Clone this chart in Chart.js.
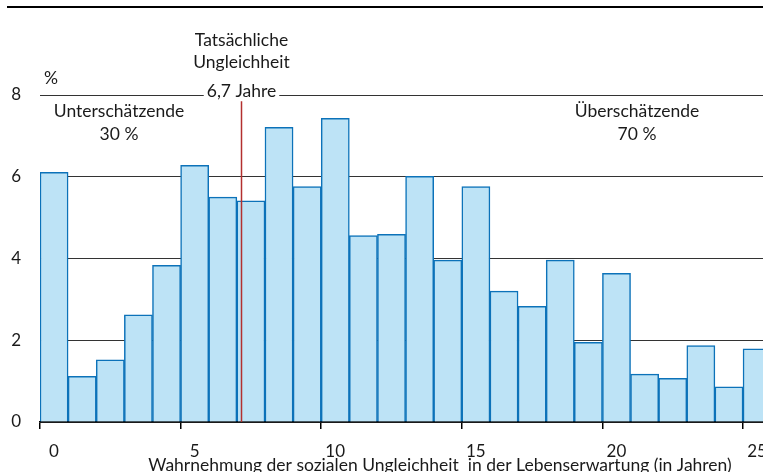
<!DOCTYPE html>
<html lang="de">
<head>
<meta charset="utf-8">
<script src="https://cdn.jsdelivr.net/npm/chart.js@4.4.1/dist/chart.umd.min.js"></script>
<style>
  html, body { margin: 0; padding: 0; background: #fff; overflow: hidden; }
  #wrap { position: relative; width: 790px; height: 472px; }
</style>
</head>
<body>
<div id="wrap"><canvas id="chart" width="790" height="472"></canvas></div>
<script>
const bins = [0, 1, 2, 3, 4, 5, 6, 7, 8, 9, 10, 11, 12, 13, 14, 15, 16, 17, 18, 19, 20, 21, 22, 23, 24, 25];
const shares = [6.11, 1.12, 1.52, 2.62, 3.83, 6.28, 5.50, 5.41, 7.21, 5.76, 7.43, 4.56, 4.59, 6.01, 3.96, 5.76, 3.20, 2.83, 3.96, 1.95, 3.64, 1.17, 1.07, 1.87, 0.86, 1.79];
const xTicks = [0, 5, 10, 15, 20, 25];
const yTicks = [0, 2, 4, 6, 8];
const actualGap = 6.7;

const FONT = 'Lato, "Noto Sans", sans-serif';
const ink = '#1a1a1a';

const annotations = {
    id: 'annotations',
    afterDraw(chart) {
        const { ctx, scales: { x, y } } = chart;
        ctx.save();
        // red line: actual inequality
        const rx = Math.round(x.getPixelForValue(actualGap + 0.5)) - 0.5;
        ctx.strokeStyle = '#b3302f';
        ctx.lineWidth = 1.5;
        ctx.beginPath();
        ctx.moveTo(rx, y.getPixelForValue(7.85));
        ctx.lineTo(rx, y.getPixelForValue(0));
        ctx.stroke();

        ctx.textAlign = 'center';
        ctx.textBaseline = 'alphabetic';
        ctx.font = `17.5px ${FONT}`;
        const lbl = '6,7 Jahre';
        const w = ctx.measureText(lbl).width;
        const y8 = y.getPixelForValue(8);
        ctx.fillStyle = '#fff';
        ctx.fillRect(rx - w / 2 - 3, y8 - 3, w + 6, 6);
        ctx.fillStyle = ink;
        ctx.fillText(lbl, rx, y8 + 2);
        ctx.fillText('Tatsächliche', rx, 46);
        ctx.fillText('Ungleichheit', rx, 68);

        ctx.fillText('Unterschätzende', 119, 117);
        ctx.fillText('30 %', 119, 140);
        ctx.fillText('Überschätzende', 637, 117);
        ctx.fillText('70 %', 637, 140);
        ctx.fillText('%', 51, 84);

        ctx.fillText('Wahrnehmung der sozialen Ungleichheit  in der Lebenserwartung (in Jahren)', 440, 471);

        // top rule
        ctx.fillStyle = '#000';
        ctx.fillRect(7, 6, 800, 2);
        ctx.restore();
    }
};

new Chart(document.getElementById('chart'), {
    type: 'bar',
    data: {
        datasets: [{
            data: bins.map((b, i) => ({ x: b + 0.5, y: shares[i] })),
            backgroundColor: '#bde3f6',
            borderColor: '#0c72b9',
            borderWidth: 1.5,
            barPercentage: 1,
            categoryPercentage: 1
        }]
    },
    options: {
        responsive: false,
        devicePixelRatio: 1,
        animation: false,
        layout: { padding: { top: 95, right: 0, left: 0, bottom: 0 } },
        plugins: { legend: { display: false }, tooltip: { enabled: false } },
        scales: {
            x: {
                type: 'linear',
                offset: false,
                min: 0,
                max: 26.67,
                afterBuildTicks: s => { s.ticks = xTicks.map(v => ({ value: v })); },
                afterFit: s => { s.height = 50; },
                grid: { offset: false, drawOnChartArea: false, drawTicks: true, tickLength: 7, color: '#000', lineWidth: 1.5 },
                border: { display: true, color: '#000', width: 1.5 },
                ticks: { color: ink, font: { family: FONT, size: 17 }, labelOffset: 14, padding: 12, maxRotation: 0 }
            },
            y: {
                min: 0,
                max: 8,
                afterBuildTicks: s => { s.ticks = yTicks.map(v => ({ value: v })); },
                afterFit: s => { s.width = 40; },
                grid: { drawTicks: false, color: '#333', lineWidth: 1 },
                border: { display: false },
                ticks: { color: ink, font: { family: FONT, size: 17 }, padding: 19 }
            }
        }
    },
    plugins: [annotations]
});
</script>
</body>
</html>
